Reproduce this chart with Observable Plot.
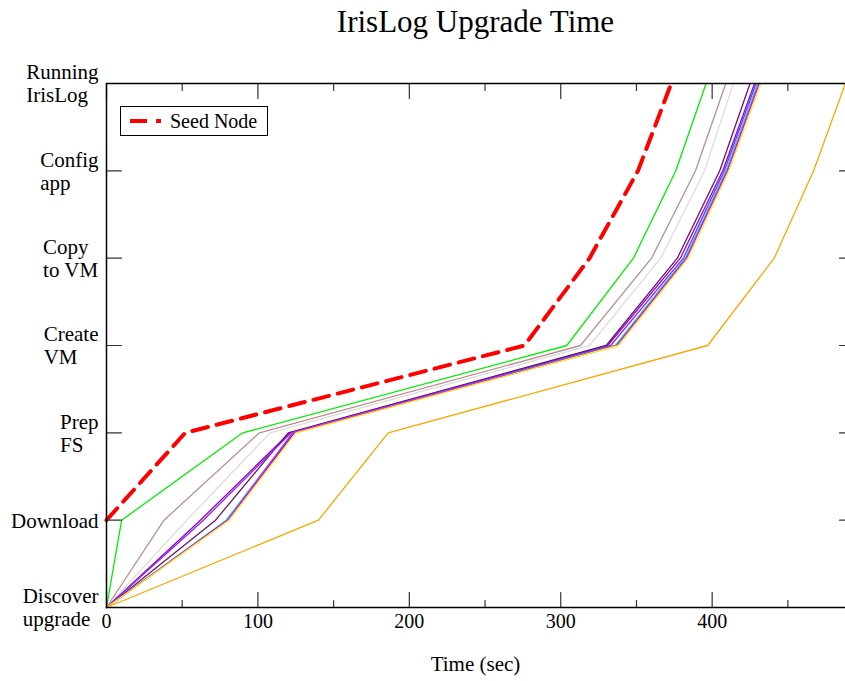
<!DOCTYPE html>
<html>
<head>
<meta charset="utf-8">
<script src="https://cdn.jsdelivr.net/npm/d3@7"></script>
<script src="https://cdn.jsdelivr.net/npm/@observablehq/plot@0.6"></script>
<style>
  html, body { margin: 0; padding: 0; background: white; overflow: hidden; }
  #wrap { position: relative; width: 845px; height: 681px; font-family: "Liberation Serif", serif; background: white; }
  #lines { position: absolute; left: 0; top: 0; }
  #axes { position: absolute; left: 0; top: 0; }
  #title { position: absolute; left: 106px; width: 739px; top: 5px; text-align: center; font-size: 31px; line-height: 34px; }
  #xlabel { position: absolute; left: 106px; width: 739px; top: 652px; text-align: center; font-size: 21px; line-height: 24px; }
  #legend { position: absolute; left: 120px; top: 106px; width: 146px; height: 28px; border: 1px solid black; background: white; }
  #legend svg { position: absolute; left: 0; top: 0; }
  #legend span { position: absolute; left: 49px; top: 2px; font-size: 20px; line-height: 24px; }
</style>
</head>
<body>
<div id="wrap">
  <div id="lines"></div>
  <div id="axes"></div>
  <div id="title">IrisLog Upgrade Time</div>
  <div id="xlabel">Time (sec)</div>
  <div id="legend">
    <svg width="60" height="28"><line x1="9" x2="40" y1="14" y2="14" stroke="red" stroke-width="4" stroke-dasharray="17,9"></line></svg>
    <span>Seed Node</span>
  </div>
</div>
<script>
// Stage (y) categories, bottom to top
const stages = ["Discover\nupgrade", "Download", "Prep\nFS", "Create\nVM", "Copy\nto VM", "Config\napp", "Running\nIrisLog"];

// Seed node: starts at "Download"
const seedStages = [1, 2, 3, 4, 5, 6];
const seedTimes = [0, 52, 276, 319, 351, 373];

// Other nodes: time (sec) at which each stage 0..6 is reached
const nodeNames = ["green", "rosybrown", "gainsboro", "darkviolet", "darkpurple", "blueviolet", "cyan", "blue", "magenta", "yellow", "orange"];
const nodeColors = ["#00ee00", "#bc8f8f", "#dcdcdc", "#9400d3", "#6a1470", "#8a2be2", "#00e5ff", "#1f1fff", "#ff00ff", "#ffee00", "#ffa500"];
const greenTimes = [0, 10, 90, 304, 348, 376, 396];
const rosyTimes = [0, 38, 101, 313, 360, 389, 409];
const grayTimes = [0, 53, 108, 319, 366, 395, 414];
const darkvioletTimes = [0, 62, 121, 331, 379, 407, 428];
const darkpurpleTimes = [0, 72, 120, 330, 377, 405, 425];
const bluevioletTimes = [0, 64, 122, 333, 381, 408, 429];
const cyanTimes = [0, 79, 123, 336, 382, 409, 430];
const blueTimes = [0, 80, 124, 337, 383, 410, 431];
const magentaTimes = [0, 80, 123, 337, 383, 410, 431];
const yellowTimes = [0, 81, 125, 338, 384, 411, 432];
const orangeTimes = [0, 140, 186, 397, 441, 467, 488];

// Axis ticks
const xMajor = [0, 100, 200, 300, 400];
const xMinor = [50, 150, 250, 350, 450];
const yTicks = [0, 1, 2, 3, 4, 5, 6];

const nodeSeries = [greenTimes, rosyTimes, grayTimes, darkvioletTimes, darkpurpleTimes, bluevioletTimes, cyanTimes, blueTimes, magentaTimes, yellowTimes, orangeTimes];
const nodeRows = nodeSeries.flatMap((times, k) => times.map((t, i) => ({node: nodeNames[k], stage: i, time: t})));
const seedRows = seedTimes.map((t, i) => ({stage: seedStages[i], time: t}));

const font = "'Liberation Serif', serif";
const frameOpts = {
  width: 845, height: 681,
  marginTop: 83, marginBottom: 74, marginLeft: 106, marginRight: -9,
  x: {domain: [0, 494], label: null},
  y: {domain: [0, 6], label: null}
};

// Layer 1: the data lines
const linesPlot = Plot.plot({
  ...frameOpts,
  style: {fontFamily: font, overflow: "visible"},
  axis: null,
  color: {domain: nodeNames, range: nodeColors},
  marks: [
    Plot.line(nodeRows, {x: "time", y: "stage", z: "node", stroke: "node", strokeWidth: 1.3}),
    Plot.line(seedRows, {x: "time", y: "stage", stroke: "red", strokeWidth: 4, strokeDasharray: "16,9"})
  ]
});
document.getElementById("lines").appendChild(linesPlot);

// Layer 2: frame, inward ticks and tick labels (same scales)
const ctx = document.createElement("canvas").getContext("2d");
ctx.font = "21px 'Liberation Serif'";
const blockWidth = (s) => Math.max(...s.split("\n").map(l => ctx.measureText(l).width));
const yLabelMarks = stages.map((s, i) => Plot.axisY([yTicks[i]], {
  anchor: "left", tickSize: 0, tickPadding: blockWidth(s) + 8, textAnchor: "start",
  tickFormat: () => s, fontSize: 21, lineHeight: 1.1, label: null
}));
const tickShape = {draw(context, l) { context.moveTo(0, 0); context.lineTo(0, -l); }};
const tickOpts = {anchor: "start", shape: tickShape, stroke: "#333", strokeWidth: 1.2};

const axesPlot = Plot.plot({
  ...frameOpts,
  style: {fontFamily: font, fontSize: "20px", color: "black", background: "none", overflow: "visible"},
  marks: [
    Plot.vector(xMajor, {x: d => d, frameAnchor: "bottom", rotate: 0, length: 15, ...tickOpts}),
    Plot.vector(xMinor, {x: d => d, frameAnchor: "bottom", rotate: 0, length: 7, ...tickOpts}),
    Plot.vector(xMajor, {x: d => d, frameAnchor: "top", rotate: 180, length: 15, ...tickOpts}),
    Plot.vector(xMinor, {x: d => d, frameAnchor: "top", rotate: 180, length: 7, ...tickOpts}),
    Plot.vector(yTicks, {y: d => d, frameAnchor: "left", rotate: 90, length: 15, ...tickOpts}),
    Plot.vector(yTicks, {y: d => d, frameAnchor: "right", rotate: -90, length: 15, ...tickOpts}),
    Plot.frame({stroke: "black", strokeWidth: 1.5}),
    Plot.axisX(xMajor, {anchor: "bottom", tickSize: 0, tickPadding: 6, fontSize: 20, label: null}),
    ...yLabelMarks
  ]
});
document.getElementById("axes").appendChild(axesPlot);
</script>
</body>
</html>
